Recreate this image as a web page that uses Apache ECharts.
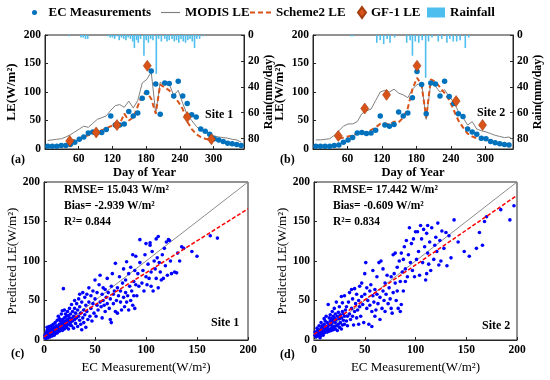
<!DOCTYPE html>
<html><head><meta charset="utf-8">
<script src="https://cdn.jsdelivr.net/npm/echarts@6/dist/echarts.min.js"></script>
<style>html,body{margin:0;padding:0;background:#fff}#c{width:550px;height:380px}</style>
</head><body><div id="c"></div>
<script>
// ---------- DATA ----------
const days = [5,13,21,29,37,45,53,61,69,77,85,93,101,109,117,125,133,141,149,157,165,173,181,189,197,205,213,221,229,237,245,253,261,269,277,285,293,301,309,317,325,333,341,349];
const ecA = [5,5,5,6,6,8,12,17,21,28,30,29,29,34,58,42,42,44,66,58,63,89,99,137,114,61,116,115,93,119,93,80,60,56,35,31,26,18,16,13,10,9,8,6];
const modisA = [15,16,17,18,21,25,30,35,40,38,45,52,55,58,68,76,78,73,84,72,85,116,122,135,62,117,112,114,94,103,80,60,50,40,32,32,27,23,21,20,19,17,16,12];
const schemeDays = [45,53,61,69,77,85,93,101,109,117,125,133,141,149,157,165,173,181,189,197,205,213,221,229,237,245,253,261,269,277,285,293];
const schemeA = [12,17,19,22,24,27,30,33,36,40,42,44,62,50,55,75,95,100,88,62,113,108,103,92,83,70,48,35,26,21,18,16];
const gfA = [[44,14],[91,29],[128,42],[182,146],[253,56],[296,17]];
const rainA = [[43,1],[64,2],[68,2],[72,3],[76,3],[112,1],[116,2],[120,2],[124,3],[128,1],[132,4],[136,2],[140,3],[144,4],[148,2],[152,3],[156,5],[159,10],[163,4],[166,6],[170,3],[176,16],[180,4],[184,6],[188,3],[192,4],[198,30],[202,3],[207,5],[213,3],[217,5],[221,4],[226,3],[230,5],[234,4],[238,6],[242,3],[246,5],[250,6],[254,4],[258,3],[262,5],[266,10],[270,3],[275,3],[281,1]];

const ecB = [5,5,5,5,6,7,12,16,20,28,29,27,28,33,58,42,40,43,65,58,63,90,136,113,62,116,114,93,119,92,80,62,57,35,30,26,19,18,13,11,9,8,7,6];
const modisB = [16,16,17,18,24,32,40,44,44,48,62,67,70,85,100,103,100,105,98,95,90,105,113,115,52,117,110,100,104,92,82,66,55,42,48,35,32,30,27,24,22,20,21,16];
const schemeB = [18,20,22,24,27,28,30,33,38,44,45,43,48,47,55,72,105,125,112,55,122,118,108,98,86,68,50,38,27,22,19,16];
const gfB = [[44,23],[90,71],[128,95],[181,146],[249,84],[295,42]];
const rainB = [[66,1],[70,1],[111,6],[117,4],[123,7],[129,3],[134,6],[142,2],[163,6],[169,4],[173,16],[178,5],[184,6],[190,4],[196,33],[201,5],[207,2],[218,5],[224,3],[233,6],[238,3],[244,5],[250,5],[256,4],[265,10],[271,2]];

const scatterC = [[1,3],[1,6],[2,2],[2,5],[2,9],[3,4],[3,7],[3,12],[3,16],[4,3],[4,6],[4,9],[4,13],[5,5],[5,8],[5,11],[5,17],[6,4],[6,7],[6,10],[6,14],[7,6],[7,9],[7,12],[7,18],[8,5],[8,8],[8,11],[8,15],[9,7],[9,10],[9,13],[9,20],[10,6],[10,9],[10,12],[10,16],[11,8],[11,14],[11,22],[12,10],[12,13],[12,18],
[13,9],[13,15],[13,25],[14,12],[14,17],[14,30],[15,11],[15,14],[15,20],[15,27],[16,13],[16,18],[16,24],[17,15],[17,21],[17,33],[18,12],[18,19],[18,26],[18,37],[19,17],[19,23],[19,65],[20,14],[20,20],[20,28],[20,38],[21,18],[21,24],[21,33],[22,16],[22,22],[22,30],[23,20],[23,26],[23,36],[24,14],[24,24],[24,31],[25,19],[25,28],[25,40],
[26,22],[26,33],[27,18],[27,27],[27,45],[28,24],[28,36],[29,30],[29,15],[30,26],[30,40],[30,50],[31,21],[31,34],[32,28],[32,46],[33,17],[33,38],[34,30],[34,52],[35,25],[35,42],[35,58],[36,20],[36,34],[37,48],[37,13],[38,28],[38,60],[39,38],[39,22],[40,32],[40,54],[41,16],[41,44],[42,36],[42,58],[43,26],[44,48],[44,66],[45,30],
[46,40],[46,56],[47,24],[48,46],[48,62],[49,34],[50,52],[50,76],[51,30],[52,44],[52,60],[53,38],[54,70],[55,48],[55,82],[56,42],[57,58],[57,28],[58,66],[58,50],[59,44],[60,64],[60,36],[61,54],[62,78],[62,46],[63,60],[64,40],[65,52],[65,26],[66,68],[66,22],[67,84],[68,46],[68,58],[69,62],[70,36],[70,97],
[71,50],[72,66],[72,34],[73,56],[74,80],[75,48],[75,62],[76,38],[77,72],[78,54],[78,90],[79,42],[80,76],[80,60],[81,99],[81,48],[82,56],[83,84],[83,38],[84,68],[85,92],[85,50],[86,62],[87,108],[87,44],[88,74],[88,56],[89,88],[89,40],[90,70],[90,106],[91,56],[92,84],[93,68],[94,127],[94,98],
[96,72],[97,88],[98,62],[99,108],[100,80],[100,122],[101,70],[102,96],[103,78],[104,123],[104,120],[105,68],[105,86],[106,112],[107,62],[108,100],[109,90],[110,128],[110,78],[111,104],[112,131],[112,66],[113,98],[114,86],[115,76],[116,108],[117,78],[118,116],[119,94],[120,124],[121,82],[122,127],[123,126],[124,100],[125,84],
[128,86],[130,85],[131,110],[133,100],[135,118],[137,116],[145,112],[150,106],[163,132],[170,129]];

const scatterD = [[1,6],[1,10],[2,4],[2,8],[3,6],[3,11],[3,15],[4,5],[4,9],[4,13],[5,7],[5,10],[5,18],[6,3],[6,8],[6,12],[7,6],[7,10],[7,15],[7,22],[8,8],[8,12],[8,18],[9,6],[9,11],[9,16],[10,9],[10,13],[10,20],[10,27],[11,10],[11,15],[11,24],[12,12],[12,17],[12,30],
[13,10],[13,16],[13,22],[14,13],[14,18],[14,45],[15,11],[15,20],[15,28],[16,14],[16,24],[16,32],[17,12],[17,19],[17,27],[18,16],[18,22],[18,36],[19,13],[19,25],[19,30],[20,17],[20,28],[20,40],[21,14],[21,22],[21,33],[22,18],[22,26],[22,48],[23,12],[23,30],[24,20],[24,35],[25,16],[25,27],[25,42],
[26,22],[26,32],[27,14],[27,28],[27,55],[28,19],[28,36],[28,47],[29,25],[29,33],[30,20],[30,30],[30,56],[31,38],[32,24],[32,42],[33,30],[33,18],[34,48],[35,33],[35,60],[36,26],[37,40],[37,64],[38,30],[38,52],[39,19],[40,36],[40,65],[41,46],[42,28],[42,58],[43,38],[44,50],[44,20],[45,42],[45,68],
[46,30],[47,55],[47,72],[48,45],[49,22],[50,58],[50,84],[51,98],[52,40],[52,66],[53,50],[54,20],[55,62],[55,44],[56,70],[57,17],[57,36],[58,56],[58,88],[59,48],[60,64],[60,30],[61,38],[62,58],[62,80],[63,46],[64,98],[65,54],[65,26],[66,100],[67,40],[68,62],[68,90],[69,50],[70,72],[70,36],
[71,58],[72,82],[73,46],[74,66],[75,52],[76,80],[76,40],[77,34],[78,108],[78,60],[79,84],[80,110],[80,72],[81,50],[82,92],[82,62],[83,40],[84,100],[85,74],[85,36],[86,110],[86,45],[87,86],[88,62],[88,102],[89,118],[90,90],[90,74],[91,126],[92,80],[93,108],[94,142],[95,98],[96,122],[97,88],[98,128],[99,80],[100,137],
[101,102],[102,137],[103,112],[104,82],[105,145],[106,128],[107,98],[108,140],[109,118],[110,76],[111,135],[111,84],[112,145],[112,110],[113,96],[114,124],[115,88],[116,142],[118,102],[119,120],[120,130],[121,112],[122,148],[123,95],[124,126],[125,100],[126,138],[128,116],[130,136],[131,94],[133,132],[135,104],[138,152],
[142,124],[148,112],[153,106],[160,116],[163,136],[166,120],[168,150],[170,156],[184,165],[193,152],[197,170]];

const oneToOne = [[0,0],[200,200]];
const fitC = [[0,4],[200,166]];
const fitD = [[0,7],[200,183]];
const leTicks = [0,50,100,150,200];
const dayTicks = [60,120,180,240,300];
const rainTicks = [0,20,40,60,80];

// ---------- CHART ----------
const FF = "'Liberation Serif','Times New Roman',serif";
const C_EC = '#0072BD', C_OR = '#D95319', C_GR = '#7F7F7F', C_RAIN = '#4DBEEE';
const zip = (xs, ys) => xs.map((x, i) => [x, ys[i]]);
const lbl = (fmt) => ({ fontFamily: FF, fontWeight: 'bold', fontSize: 11.5, color: '#000', margin: 4, formatter: fmt });
const axLine = { show: true, lineStyle: { color: '#262626', width: 1 } };
const tick = { show: true, inside: true, length: 3, lineStyle: { color: '#262626' } };
const nameLE = { fontFamily: FF, fontWeight: 'bold', fontSize: 13, color: '#000' };
const nameRain = { fontFamily: FF, fontWeight: 'bold', fontSize: 12, color: '#000' };
const nameDay = { fontFamily: FF, fontWeight: 'bold', fontSize: 12.5, color: '#000' };
const nameSc = { fontFamily: FF, fontWeight: 'normal', fontSize: 13, color: '#000' };

const dayFmt = v => dayTicks.includes(v) ? String(v) : '';
const leFmt = v => leTicks.includes(v) ? String(v) : '';
const rainFmt = v => rainTicks.includes(v) ? String(v) : '';

function xDay(gi, max) {
  return { type: 'value', gridIndex: gi, min: 0, max: max, interval: 60,
    axisLine: axLine, axisTick: tick, splitLine: { show: false }, axisLabel: lbl(dayFmt),
    name: 'Day of Year', nameLocation: 'middle', nameGap: 16, nameTextStyle: nameDay };
}
function yLE(gi, name, gap, ns) {
  return { type: 'value', gridIndex: gi, min: 0, max: 200, interval: 50, position: 'left',
    axisLine: axLine, axisTick: tick, splitLine: { show: false }, axisLabel: lbl(leFmt),
    name: name, nameLocation: 'middle', nameGap: gap, nameRotate: 90, nameTextStyle: ns };
}
function yRain(gi) {
  return { type: 'value', gridIndex: gi, min: 0, max: 88, interval: 20, inverse: true, position: 'right',
    axisLine: axLine, axisTick: tick, splitLine: { show: false }, axisLabel: lbl(rainFmt),
    name: 'Rain(mm/day)', nameLocation: 'middle', nameGap: 18, nameRotate: 90, nameTextStyle: nameRain };
}
function xEC(gi) {
  return { type: 'value', gridIndex: gi, min: 0, max: 200, interval: 50,
    axisLine: axLine, axisTick: tick, splitLine: { show: false }, axisLabel: lbl(leFmt),
    name: 'EC Measurement(W/m²)', nameLocation: 'middle', nameGap: 21, nameTextStyle: nameSc };
}

function timeSeries(xi, yi, yr, ec, modis, scheme, gf, rain) {
  return [
    { name: 'Rainfall', type: 'bar', xAxisIndex: xi, yAxisIndex: yr, data: rain, barWidth: 1.6,
      itemStyle: { color: C_RAIN }, z: 1, silent: true },
    { name: 'MODIS LE', type: 'line', xAxisIndex: xi, yAxisIndex: yi, data: zip(days, modis), symbol: 'none',
      lineStyle: { color: C_GR, width: 1 }, itemStyle: { color: C_GR }, z: 2 },
    { name: 'Scheme2 LE', type: 'line', xAxisIndex: xi, yAxisIndex: yi, data: zip(schemeDays, scheme), symbol: 'none',
      lineStyle: { color: C_OR, width: 2, type: [5, 3] }, itemStyle: { color: C_OR }, z: 3 },
    { name: 'EC Measurements', type: 'scatter', xAxisIndex: xi, yAxisIndex: yi, data: zip(days, ec), symbol: 'circle',
      symbolSize: 5.5, itemStyle: { color: C_EC, opacity: 1 }, z: 4 },
    { name: 'GF-1 LE', type: 'scatter', xAxisIndex: xi, yAxisIndex: yi, data: gf, symbol: 'diamond',
      symbolSize: [8, 11], itemStyle: { color: C_OR, borderColor: '#A33E0E', borderWidth: 0.6, opacity: 1 }, z: 5 }
  ];
}
function scatterSeries(xi, yi, pts, fit, tag) {
  return [
    { name: '1:1 ' + tag, type: 'line', xAxisIndex: xi, yAxisIndex: yi, data: oneToOne, symbol: 'none',
      lineStyle: { color: '#8C8C8C', width: 1 }, z: 2 },
    { name: 'Fit ' + tag, type: 'line', xAxisIndex: xi, yAxisIndex: yi, data: fit, symbol: 'none',
      lineStyle: { color: '#FF0000', width: 1.5, type: [4, 2] }, z: 4 },
    { name: 'Points ' + tag, type: 'scatter', xAxisIndex: xi, yAxisIndex: yi, data: pts, symbol: 'circle',
      symbolSize: 3.6, itemStyle: { color: '#0000FF', opacity: 1 }, z: 3 }
  ];
}

const legTxt = { fontFamily: FF, fontWeight: 'bold', fontSize: 13, color: '#000' };
function leg(name, left, w, h, icon) {
  return { data: [{ name: name, icon: icon }], left: left, top: 6, itemWidth: w, itemHeight: h,
    textStyle: legTxt, padding: 0, selectedMode: false };
}
const ICON_LINE = 'path://M0,0h20v1.2h-20z';
const ICON_DASH = 'path://M0,0h5v2h-5z M8,0h5v2h-5z M16,0h5v2h-5z';

function txt(text, x, y, size, align) {
  return { type: 'text', x: x, y: y, style: { text: text, fontFamily: FF, fontWeight: 'bold', fontSize: size || 12,
    fill: '#000', align: align || 'left', verticalAlign: 'middle' }, z: 100 };
}

const chart = echarts.init(document.getElementById('c'), null, { renderer: 'canvas' });
chart.setOption({
  animation: false,
  backgroundColor: '#fff',
  legend: [
    leg('EC Measurements', 32, 18, 5, 'circle'),
    leg('MODIS LE', 161, 19, 12, ICON_LINE),
    leg('Scheme2 LE', 250, 21, 12, ICON_DASH),
    leg('GF-1 LE', 357, 8, 11, 'diamond'),
    leg('Rainfall', 427, 18, 10, 'rect')
  ],
  grid: [
    { left: 45, top: 35, width: 199, height: 114, show: true, borderColor: '#262626', borderWidth: 1, backgroundColor: 'transparent' },
    { left: 313, top: 35, width: 200, height: 114, show: true, borderColor: '#262626', borderWidth: 1, backgroundColor: 'transparent' },
    { left: 44, top: 182, width: 204, height: 158, show: true, borderColor: '#262626', borderWidth: 1, backgroundColor: 'transparent' },
    { left: 314, top: 182, width: 203, height: 158, show: true, borderColor: '#262626', borderWidth: 1, backgroundColor: 'transparent' }
  ],
  xAxis: [ xDay(0, 354), xDay(1, 348), xEC(2), xEC(3) ],
  yAxis: [
    yLE(0, 'LE(W/m²)', 27, nameLE), yRain(0),
    yLE(1, 'LE(W/m²)', 27, nameLE), yRain(1),
    yLE(2, 'Predicted LE(W/m²)', 25, nameSc),
    yLE(3, 'Predicted LE(W/m²)', 25, nameSc)
  ],
  series: [
    ...timeSeries(0, 0, 1, ecA, modisA, schemeA, gfA, rainA),
    ...timeSeries(1, 2, 3, ecB, modisB, schemeB, gfB, rainB),
    ...scatterSeries(2, 4, scatterC, fitC, 'c'),
    ...scatterSeries(3, 5, scatterD, fitD, 'd')
  ],
  graphic: [
    txt('Site 1', 205, 115), txt('Site 2', 477, 113),
    txt('Site 1', 211, 323), txt('Site 2', 482, 326),
    txt('(a)', 11, 160), txt('(b)', 280, 160), txt('(c)', 11, 354), txt('(d)', 280, 355),
    txt('RMSE= 15.043 W/m²', 64, 190, 11.5), txt('Bias= -2.939 W/m²', 64, 206, 11.5), txt('R²= 0.844', 64, 222, 11.5),
    txt('RMSE= 17.442 W/m²', 333, 190, 11.5), txt('Bias= -0.609 W/m²', 333, 206, 11.5), txt('R²= 0.834', 333, 222, 11.5)
  ]
});
</script></body></html>
